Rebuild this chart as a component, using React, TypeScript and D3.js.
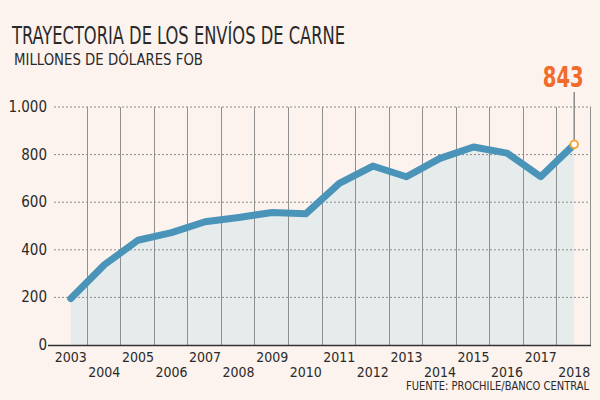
import React, { useEffect, useRef } from "react";
import { select, scaleBand, scaleLinear, area, line, curveLinear } from "d3";

const years = [
  2003, 2004, 2005, 2006, 2007, 2008, 2009, 2010, 2011, 2012, 2013, 2014, 2015,
  2016, 2017, 2018,
];
const exportsValue = [
  195, 337, 440, 472, 518, 536, 557, 551, 679, 752, 707, 784, 832, 806, 707,
  843,
];
const yTicks = [0, 200, 400, 600, 800, 1000];
const yTickLabels = ["0", "200", "400", "600", "800", "1.000"];

const title = "TRAYECTORIA DE LOS ENVÍOS DE CARNE";
const subtitle = "MILLONES DE DÓLARES FOB";
const source = "FUENTE: PROCHILE/BANCO CENTRAL";

const width = 600;
const height = 400;
const font = "'Liberation Sans Narrow', 'DejaVu Sans Condensed', sans-serif";

const LineChart: React.FC = () => {
  const svgRef = useRef<SVGSVGElement | null>(null);

  useEffect(() => {
    const svg = select(svgRef.current);
    svg.selectAll("*").remove();

    const left = 54;
    const right = 591;
    const top = 107;
    const bottom = 345;

    const xBand = scaleBand<number>().domain(years).range([left, right]);
    const bw = xBand.bandwidth();
    const xScale = (d: number) => (xBand(d) as number) + bw / 2;
    const yScale = scaleLinear().domain([0, 1000]).range([bottom, top]);

    const data = years.map((y, i) => [y, exportsValue[i]] as [number, number]);

    svg
      .append("rect")
      .attr("width", width)
      .attr("height", height)
      .attr("fill", "#fdf3ee");

    // headings
    svg
      .append("text")
      .attr("x", 12)
      .attr("y", 44)
      .attr("font-family", font)
      .attr("font-size", 24)
      .attr("fill", "#2a2a2a")
      .attr("textLength", 333)
      .attr("lengthAdjust", "spacingAndGlyphs")
      .text(title);
    svg
      .append("text")
      .attr("x", 14)
      .attr("y", 65)
      .attr("font-family", font)
      .attr("font-size", 15)
      .attr("fill", "#2a2a2a")
      .attr("textLength", 189)
      .attr("lengthAdjust", "spacingAndGlyphs")
      .text(subtitle);

    // filled area under the line
    svg
      .append("path")
      .datum(data)
      .attr("fill", "#e6ebeb")
      .attr(
        "d",
        area<[number, number]>()
          .x((d) => xScale(d[0]))
          .y0(yScale(0))
          .y1((d) => yScale(d[1]))
      );

    // dashed horizontal grid
    svg
      .append("g")
      .selectAll("line")
      .data(yTicks.filter((t) => t > 0))
      .join("line")
      .attr("x1", left)
      .attr("x2", right)
      .attr("y1", (d) => yScale(d))
      .attr("y2", (d) => yScale(d))
      .attr("stroke", "#8a8a8a")
      .attr("stroke-width", 1)
      .attr("stroke-dasharray", "2,2");

    // vertical separators between years
    svg
      .append("g")
      .selectAll("line")
      .data(years)
      .join("line")
      .attr("x1", (d) => Math.round((xBand(d) as number) + bw) - 0.5)
      .attr("x2", (d) => Math.round((xBand(d) as number) + bw) - 0.5)
      .attr("y1", top)
      .attr("y2", bottom)
      .attr("stroke", "#8f8f8f")
      .attr("stroke-width", 1);

    // baseline
    svg
      .append("line")
      .attr("x1", left - 6)
      .attr("x2", right)
      .attr("y1", bottom + 0.5)
      .attr("y2", bottom + 0.5)
      .attr("stroke", "#333")
      .attr("stroke-width", 1.5);

    // y tick labels
    svg
      .append("g")
      .selectAll("text")
      .data(yTicks)
      .join("text")
      .attr("x", left - 7)
      .attr("y", (d) => yScale(d) + 5)
      .attr("text-anchor", "end")
      .attr("font-family", font)
      .attr("font-size", 15)
      .attr("fill", "#2a2a2a")
      .text((d, i) => yTickLabels[i]);

    // x tick labels, staggered on two rows
    svg
      .append("g")
      .selectAll("text")
      .data(years)
      .join("text")
      .attr("x", (d) => xScale(d))
      .attr("y", (d, i) => (i % 2 === 0 ? 362 : 377))
      .attr("text-anchor", "middle")
      .attr("font-family", font)
      .attr("font-size", 14)
      .attr("fill", "#2a2a2a")
      .text((d) => d);

    // the series line
    svg
      .append("path")
      .datum(data)
      .attr("fill", "none")
      .attr("stroke", "#4a94b9")
      .attr("stroke-width", 7)
      .attr("stroke-linejoin", "round")
      .attr("stroke-linecap", "round")
      .attr(
        "d",
        line<[number, number]>()
          .x((d) => xScale(d[0]))
          .y((d) => yScale(d[1]))
          .curve(curveLinear)
      );

    // callout for the last year
    const last = data[data.length - 1];
    const lx = xScale(last[0]);
    const ly = yScale(last[1]);
    svg
      .append("line")
      .attr("x1", lx)
      .attr("x2", lx)
      .attr("y1", 92)
      .attr("y2", ly - 4)
      .attr("stroke", "#8a8a8a")
      .attr("stroke-width", 1.5);
    svg
      .append("circle")
      .attr("cx", lx)
      .attr("cy", ly)
      .attr("r", 3.8)
      .attr("fill", "#fff")
      .attr("stroke", "#f5a93a")
      .attr("stroke-width", 2);
    svg
      .append("text")
      .attr("x", lx - 11)
      .attr("y", 87)
      .attr("text-anchor", "middle")
      .attr("font-family", font)
      .attr("font-weight", "bold")
      .attr("font-size", 28)
      .attr("fill", "#f26b2b")
      .attr("textLength", 41)
      .attr("lengthAdjust", "spacingAndGlyphs")
      .text(last[1]);

    svg
      .append("text")
      .attr("x", 589)
      .attr("y", 390)
      .attr("text-anchor", "end")
      .attr("font-family", font)
      .attr("font-size", 11.5)
      .attr("fill", "#2a2a2a")
      .attr("textLength", 183)
      .attr("lengthAdjust", "spacingAndGlyphs")
      .text(source);
  }, []);

  return (
    <svg
      ref={svgRef}
      width={width}
      height={height}
      style={{ position: "fixed", top: 0, left: 0 }}
    ></svg>
  );
};

export default function App() {
  return <LineChart />;
}
